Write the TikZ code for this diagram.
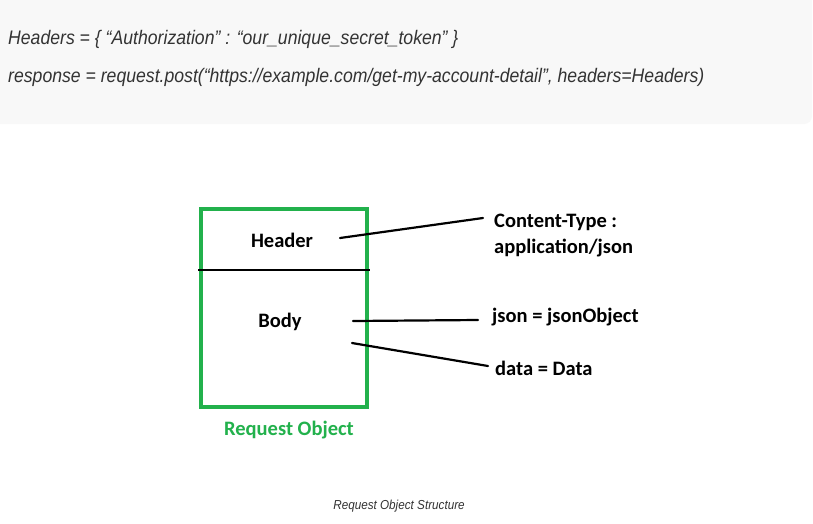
\documentclass[tikz,border=0pt]{standalone}
\usepackage{fontspec}
\setmainfont{Carlito}
\newfontfamily\codefont[FakeStretch=0.9]{Liberation Sans}
\definecolor{paintgreen}{HTML}{22B14C}
\definecolor{codebg}{HTML}{F8F8F8}
\definecolor{codetxt}{HTML}{333333}
\begin{document}
\begin{tikzpicture}[x=1pt, y=-1pt,
		label/.style={font=\fontsize{20.5}{24}\selectfont\bfseries, inner sep=0pt},
		code/.style={font=\codefont\itshape\fontsize{19.6}{22}\selectfont, text=codetxt, anchor=west, inner sep=0pt},
		link/.style={line width=2.2pt, line cap=round}
	]
		\useasboundingbox (0,0) rectangle (813,523);
		\fill[white] (0,0) rectangle (813,523);
		\fill[codebg, rounded corners=8pt] (-10,-10) rectangle (812,124);
		
		% code snippet
		\node[code] (hdrs) at (8,39) {Headers = \{ “Authorization” : “our\_unique\_secret\_token” \}};
		\node[code] (resp) at (8,77) {response = request.post(“https://example.com/get-my-account-detail”, headers=Headers)};
		
		% request object box
		\draw[paintgreen, line width=4pt] (201,209) rectangle (367,407);
		\draw[line width=2.4pt] (198,270) -- (370,270);
		\node[label] (header) at (282,240) {Header};
		\node[label] (body) at (280,322) {Body};
		\node[label, text=paintgreen] (reqobj) at (289,430) {Request Object};
		
		% right side labels
		\node[label, anchor=west, align=left] (ctype) at (494,236) {Content-Type :\\[2pt]application/json};
		\node[label, anchor=west] (json) at (492,317) {json = jsonObject};
		\node[label, anchor=west] (data) at (495,368) {data = Data};
		
		\coordinate (hdrA) at (340,238);
		\coordinate (hdrB) at (483,218);
		\coordinate (jsonA) at (353,321);
		\coordinate (jsonB) at (478,320);
		\coordinate (dataA) at (352,343);
		\coordinate (dataB) at (488,366);
		\draw[link] (hdrA) -- (hdrB);
		\draw[link] (jsonA) -- (jsonB);
		\draw[link] (dataA) -- (dataB);
		
		\node[font=\codefont\itshape\fontsize{13}{15}\selectfont, text=codetxt] (caption) at (399,506) {Request Object Structure};
	\end{tikzpicture}
\end{document}
